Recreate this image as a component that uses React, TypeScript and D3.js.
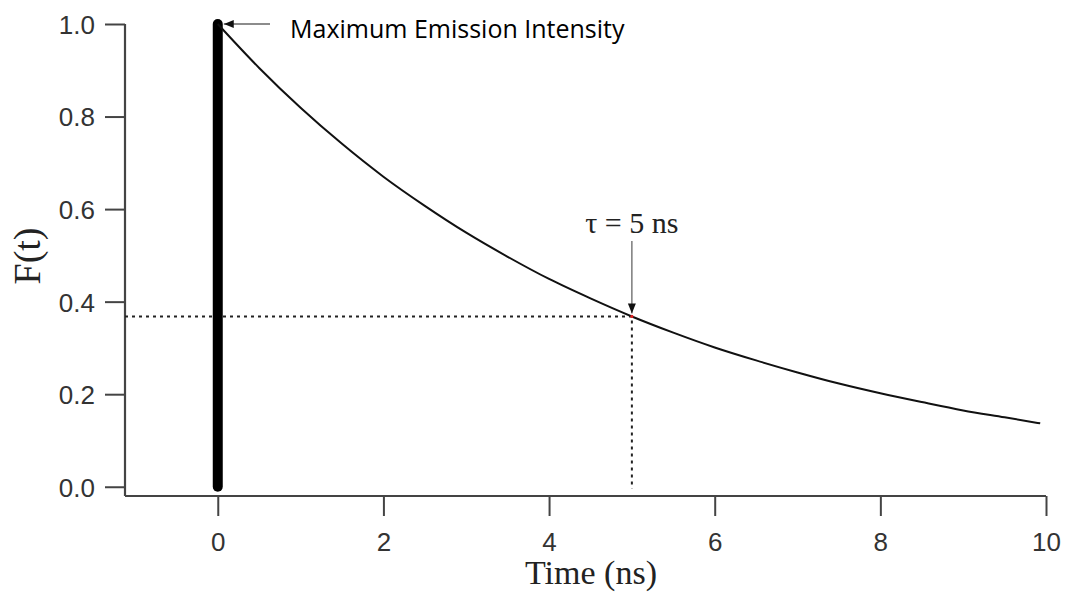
import React, { useEffect, useRef } from 'react';
import * as d3 from 'd3';

// decay curve (time in ns, normalised intensity)
const curveTimes = [0, 0.5, 1, 1.5, 2, 2.5, 3, 3.5, 4, 4.5, 5, 5.5, 6, 6.5, 7, 7.5, 8, 8.5, 9, 9.5, 9.93];
const curveValues = [1, 0.905, 0.819, 0.741, 0.67, 0.607, 0.549, 0.497, 0.449, 0.407, 0.368, 0.333, 0.301, 0.273, 0.247, 0.223, 0.202, 0.183, 0.165, 0.15, 0.137];
// the excitation pulse at t = 0
const pulseTime = [0, 0];
const pulseValues = [0, 1];
const tauTime = 5;
const tauValue = 0.368;
const xTicks = [0, 2, 4, 6, 8, 10];
const yTicks = [0, 0.2, 0.4, 0.6, 0.8, 1.0];

export default function App() {
  const svgRef = useRef<SVGSVGElement>(null);

  useEffect(() => {
    const svg = d3.select(svgRef.current);
    svg.selectAll('*').remove();

    const x = d3.scaleLinear().domain([-1.12, 10]).range([125, 1046]);
    const y = d3.scaleLinear().domain([-0.02, 1]).range([496, 24]);

    const defs = svg.append('defs');
    defs
      .append('marker')
      .attr('id', 'arr')
      .attr('viewBox', '0 0 10 10')
      .attr('refX', 10)
      .attr('refY', 5)
      .attr('markerWidth', 10)
      .attr('markerHeight', 10)
      .attr('markerUnits', 'userSpaceOnUse')
      .attr('orient', 'auto')
      .append('path')
      .attr('d', 'M0,1 L10,5 L0,9 Z')
      .attr('fill', '#111');

    // axes
    const yAxis = svg
      .append('g')
      .attr('transform', 'translate(125,0)')
      .call(d3.axisLeft(y).tickValues(yTicks).tickFormat(d3.format('.1f')).tickSize(20).tickPadding(10).tickSizeOuter(0));
    const xAxis = svg
      .append('g')
      .attr('transform', 'translate(0,496)')
      .call(d3.axisBottom(x).tickValues(xTicks).tickFormat(d3.format('d')).tickSize(20).tickPadding(17).tickSizeOuter(0));

    [yAxis, xAxis].forEach((g) => {
      g.attr('font-size', null).attr('font-family', null);
      g.select('.domain').attr('stroke', '#444').attr('stroke-width', 2.2);
      g.selectAll('.tick line').attr('stroke', '#444').attr('stroke-width', 2);
      g.selectAll('text')
        .attr('fill', '#333')
        .style('font-family', 'Liberation Sans, Arial, sans-serif')
        .style('font-size', '26px');
    });
    yAxis.selectAll('text').attr('dy', '0.36em');
    // y axis line ends at the 1.0 tick like the original
    yAxis.select('.domain').attr('d', `M0,${y(1)}V496`);
    xAxis.select('.domain').attr('d', `M125,0H${x(10)}`);

    // dotted guides at tau
    svg
      .append('path')
      .attr('d', `M${x(-1.12)},${y(tauValue)}H${x(tauTime)}V${y(0) + 2}`)
      .attr('fill', 'none')
      .attr('stroke', '#222')
      .attr('stroke-width', 2)
      .attr('stroke-dasharray', '3,4');

    // pulse
    const line = d3
      .line<number>()
      .x((_, i) => x(pulseTime[i]))
      .y((d) => y(d));
    svg
      .append('path')
      .attr('d', line(pulseValues))
      .attr('stroke', '#000')
      .attr('stroke-width', 10)
      .attr('stroke-linecap', 'round')
      .attr('fill', 'none');

    // decay curve
    const decay = d3
      .line<number>()
      .x((_, i) => x(curveTimes[i]))
      .y((d) => y(d))
      .curve(d3.curveMonotoneX);
    svg
      .append('path')
      .attr('d', decay(curveValues))
      .attr('stroke', '#111')
      .attr('stroke-width', 2)
      .attr('fill', 'none');

    svg
      .append('circle')
      .attr('cx', x(tauTime))
      .attr('cy', y(tauValue))
      .attr('r', 1.6)
      .attr('fill', '#d22');

    // tau annotation
    svg
      .append('text')
      .attr('x', x(tauTime))
      .attr('y', 233)
      .attr('text-anchor', 'middle')
      .style('font-family', 'Liberation Serif, Times New Roman, serif')
      .style('font-size', '30px')
      .attr('fill', '#222')
      .text('τ = 5 ns');
    svg
      .append('line')
      .attr('x1', x(tauTime))
      .attr('x2', x(tauTime))
      .attr('y1', 241)
      .attr('y2', y(tauValue) - 3)
      .attr('stroke', '#666')
      .attr('stroke-width', 1.3)
      .attr('marker-end', 'url(#arr)');

    // max emission annotation
    svg
      .append('line')
      .attr('x1', 270)
      .attr('x2', x(0) + 6)
      .attr('y1', y(1))
      .attr('y2', y(1))
      .attr('stroke', '#666')
      .attr('stroke-width', 1.3)
      .attr('marker-end', 'url(#arr)');
    svg
      .append('text')
      .attr('x', 290)
      .attr('y', 38)
      .style('font-family', 'Open Sans, Noto Sans, sans-serif')
      .style('font-size', '25px')
      .attr('fill', '#000')
      .text('Maximum Emission Intensity');

    // axis titles
    svg
      .append('text')
      .attr('transform', `translate(40,256) rotate(-90)`)
      .attr('text-anchor', 'middle')
      .style('font-family', 'Liberation Serif, Times New Roman, serif')
      .style('font-size', '38px')
      .attr('fill', '#222')
      .text('F(t)');
    svg
      .append('text')
      .attr('x', 591)
      .attr('y', 584)
      .attr('text-anchor', 'middle')
      .style('font-family', 'Liberation Serif, Times New Roman, serif')
      .style('font-size', '34px')
      .attr('fill', '#222')
      .text('Time (ns)');
  }, []);

  return (
    <svg
      ref={svgRef}
      width={1065}
      height={592}
      style={{ position: 'absolute', left: 0, top: 0, background: '#fff' }}
    />
  );
}
